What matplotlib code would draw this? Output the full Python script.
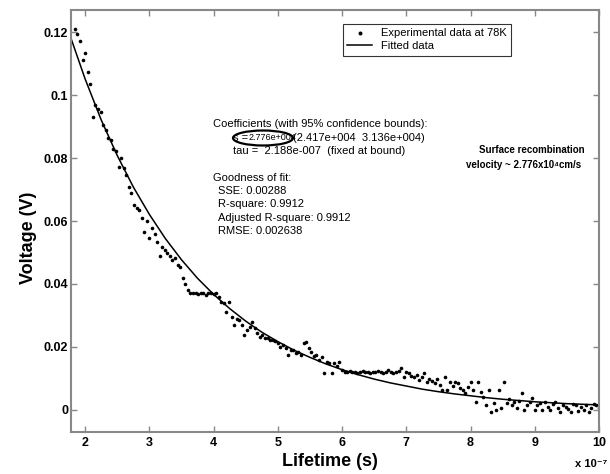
import numpy as np
import matplotlib
matplotlib.use('Agg')
import matplotlib.pyplot as plt
from matplotlib.patches import Ellipse

plt.rcParams['font.family'] = ['Liberation Sans', 'DejaVu Sans']

# lifetime in units of 1e-7 s, voltage in V
lifetime = [1.84, 1.88, 1.92, 1.96, 2.00, 2.04, 2.08, 2.12, 2.16, 2.20,
            2.24, 2.28, 2.32, 2.36, 2.40, 2.44, 2.48, 2.52, 2.56, 2.60,
            2.64, 2.68, 2.72, 2.76, 2.80, 2.84, 2.88, 2.92, 2.96, 3.00,
            3.04, 3.08, 3.12, 3.16, 3.20, 3.24, 3.28, 3.32, 3.36, 3.40,
            3.44, 3.48, 3.52, 3.56, 3.60, 3.64, 3.68, 3.72, 3.76, 3.80,
            3.84, 3.88, 3.92, 3.96, 4.00, 4.04, 4.08, 4.12, 4.16, 4.20,
            4.24, 4.28, 4.32, 4.36, 4.40, 4.44, 4.48, 4.52, 4.56, 4.60,
            4.64, 4.68, 4.72, 4.76, 4.80, 4.84, 4.88, 4.92, 4.96, 5.00,
            5.04, 5.08, 5.12, 5.16, 5.20, 5.24, 5.28, 5.32, 5.36, 5.40,
            5.44, 5.48, 5.52, 5.56, 5.60, 5.64, 5.68, 5.72, 5.76, 5.80,
            5.84, 5.88, 5.92, 5.96, 6.00, 6.04, 6.08, 6.12, 6.16, 6.20,
            6.24, 6.28, 6.32, 6.36, 6.40, 6.44, 6.48, 6.52, 6.56, 6.60,
            6.64, 6.68, 6.72, 6.76, 6.80, 6.84, 6.88, 6.92, 6.96, 7.00,
            7.04, 7.08, 7.12, 7.16, 7.20, 7.24, 7.28, 7.32, 7.36, 7.40,
            7.44, 7.48, 7.52, 7.56, 7.60, 7.64, 7.68, 7.72, 7.76, 7.80,
            7.84, 7.88, 7.92, 7.96, 8.00, 8.04, 8.08, 8.12, 8.16, 8.20,
            8.24, 8.28, 8.32, 8.36, 8.40, 8.44, 8.48, 8.52, 8.56, 8.60,
            8.64, 8.68, 8.72, 8.76, 8.80, 8.84, 8.88, 8.92, 8.96, 9.00,
            9.04, 9.08, 9.12, 9.16, 9.20, 9.24, 9.28, 9.32, 9.36, 9.40,
            9.44, 9.48, 9.52, 9.56, 9.60, 9.64, 9.68, 9.72, 9.76, 9.80,
            9.84, 9.88, 9.92, 9.96, 10.00]
voltage = [0.1210, 0.1195, 0.1170, 0.1112, 0.1135, 0.1072, 0.1035, 0.0930, 0.0967, 0.0957,
           0.0945, 0.0904, 0.0890, 0.0863, 0.0857, 0.0830, 0.0822, 0.0770, 0.0800, 0.0767,
           0.0745, 0.0707, 0.0690, 0.0650, 0.0640, 0.0634, 0.0610, 0.0565, 0.0600, 0.0545,
           0.0577, 0.0560, 0.0533, 0.0490, 0.0517, 0.0507, 0.0498, 0.0490, 0.0476, 0.0482,
           0.0460, 0.0453, 0.0420, 0.0400, 0.0380, 0.0372, 0.0372, 0.0372, 0.0369, 0.0372,
           0.0372, 0.0365, 0.0372, 0.0372, 0.0369, 0.0372, 0.0358, 0.0343, 0.0340, 0.0310,
           0.0343, 0.0295, 0.0270, 0.0290, 0.0285, 0.0270, 0.0238, 0.0254, 0.0265, 0.0280,
           0.0260, 0.0244, 0.0232, 0.0238, 0.0228, 0.0230, 0.0222, 0.0222, 0.0218, 0.0213,
           0.0200, 0.0205, 0.0197, 0.0175, 0.0190, 0.0190, 0.0180, 0.0184, 0.0175, 0.0212,
           0.0216, 0.0197, 0.0184, 0.0170, 0.0175, 0.0159, 0.0168, 0.0117, 0.0152, 0.0149,
           0.0117, 0.0149, 0.0140, 0.0152, 0.0127, 0.0120, 0.0120, 0.0124, 0.0120, 0.0120,
           0.0117, 0.0120, 0.0124, 0.0120, 0.0120, 0.0117, 0.0120, 0.0120, 0.0124, 0.0120,
           0.0117, 0.0120, 0.0127, 0.0120, 0.0117, 0.0120, 0.0124, 0.0133, 0.0105, 0.0120,
           0.0117, 0.0108, 0.0105, 0.0111, 0.0095, 0.0105, 0.0117, 0.0089, 0.0098, 0.0092,
           0.0086, 0.0098, 0.0080, 0.0063, 0.0105, 0.0063, 0.0089, 0.0076, 0.0089, 0.0086,
           0.0070, 0.0063, 0.0054, 0.0073, 0.0089, 0.0063, 0.0025, 0.0089, 0.0057, 0.0041,
           0.0016, 0.0063, -0.0006, 0.0022, 0.0000, 0.0063, 0.0006, 0.0089, 0.0022, 0.0035,
           0.0016, 0.0025, 0.0006, 0.0028, 0.0054, 0.0000, 0.0016, 0.0025, 0.0038, 0.0000,
           0.0016, 0.0022, 0.0000, 0.0025, 0.0010, 0.0000, 0.0019, 0.0025, 0.0006, -0.0006,
           0.0016, 0.0010, 0.0003, -0.0006, 0.0019, 0.0016, -0.0003, 0.0010, 0.0000, 0.0016,
           -0.0006, 0.0006, 0.0019, 0.0016, 0.0006]

fit_x = [1.78, 2.0, 2.25, 2.5, 2.75, 3.0, 3.25, 3.5, 3.75, 4.0, 4.25, 4.5,
         4.75, 5.0, 5.25, 5.5, 5.75, 6.0, 6.25, 6.5, 6.75, 7.0, 7.25, 7.5,
         7.75, 8.0, 8.25, 8.5, 8.75, 9.0, 9.25, 9.5, 9.75, 10.0]
fit_y = [0.1180, 0.1051, 0.0921, 0.0808, 0.0708, 0.0621, 0.0544, 0.0477,
         0.0418, 0.0367, 0.0322, 0.0282, 0.0247, 0.0217, 0.0190, 0.0167,
         0.0146, 0.0128, 0.0112, 0.0098, 0.0086, 0.0076, 0.0066, 0.0058,
         0.0051, 0.0045, 0.0039, 0.0034, 0.0030, 0.0026, 0.0023, 0.0020,
         0.0018, 0.0016]

xticks = [2, 3, 4, 5, 6, 7, 8, 9, 10]
yticks = [0, 0.02, 0.04, 0.06, 0.08, 0.1, 0.12]
ytick_labels = ['0', '0.02', '0.04', '0.06', '0.08', '0.1', '0.12']

W, H = 610, 474
fig = plt.figure(figsize=(W / 100, H / 100), dpi=100)
ax = fig.add_axes([71 / W, 1 - 432 / H, 528 / W, 422 / H])

ax.plot(lifetime, voltage, 'o', color='black', ms=2.6, mew=0, label='Experimental data at 78K')
ax.plot(fit_x, fit_y, '-', color='black', lw=1.1, label='Fitted data')

ax.set_xlim(1.78, 10)
ax.set_ylim(-0.007, 0.127)
ax.set_xticks(xticks)
ax.set_xticklabels([str(t) for t in xticks])
ax.set_yticks(yticks)
ax.set_yticklabels(ytick_labels)
ax.tick_params(direction='in', length=4, width=1, color='#888888',
               top=True, right=True, labelsize=9)
ax.tick_params(axis='y', pad=2)
for lab in ax.get_xticklabels() + ax.get_yticklabels():
    lab.set_fontweight('bold')
for sp in ax.spines.values():
    sp.set_color('#888888')
    sp.set_linewidth(1.5)

ax.set_xlabel('Lifetime (s)', fontsize=13, fontweight='bold')
ax.set_ylabel('Voltage (V)', fontsize=13, fontweight='bold')
ax.xaxis.set_label_coords(0.49, -0.05)
ax.yaxis.set_label_coords(-0.064, 0.46)

leg = ax.legend(loc='upper left', bbox_to_anchor=((343 - 71) / 528, (432 - 24) / 422),
                borderaxespad=0, fontsize=8, frameon=True, fancybox=False,
                edgecolor='black', borderpad=0.4, handlelength=2.2,
                labelspacing=0.25, markerscale=1.1)
leg.get_frame().set_linewidth(0.8)


def ftext(px, py, s, **kw):
    fig.text(px / W, 1 - py / H, s, va='center', **kw)


ftext(213, 124, 'Coefficients (with 95% confidence bounds):', fontsize=8)
ftext(233, 138, 's =', fontsize=8)
ftext(249, 138, '2.776e+004', fontsize=6.5)
ftext(293, 138, '(2.417e+004  3.136e+004)', fontsize=8)
ftext(233, 151, 'tau =  2.188e-007  (fixed at bound)', fontsize=8)
ftext(213, 178, 'Goodness of fit:', fontsize=8)
ftext(218, 191, 'SSE: 0.00288', fontsize=8)
ftext(218, 204, 'R-square: 0.9912', fontsize=8)
ftext(218, 218, 'Adjusted R-square: 0.9912', fontsize=8)
ftext(218, 231, 'RMSE: 0.002638', fontsize=8)

ell = Ellipse((263 / W, 1 - 138 / H), 60 / W, 15 / H, transform=fig.transFigure,
              fill=False, edgecolor='black', lw=1.6)
fig.add_artist(ell)

ftext(532, 150, 'Surface recombination', fontsize=7, fontweight='bold', ha='center')
ftext(524, 165, 'velocity ~ 2.776x10\u2074cm/s', fontsize=7, fontweight='bold', ha='center')

ftext(575, 464, 'x 10\u207b\u2077', fontsize=8, fontweight='bold')

fig.savefig('out.png', dpi=100)
